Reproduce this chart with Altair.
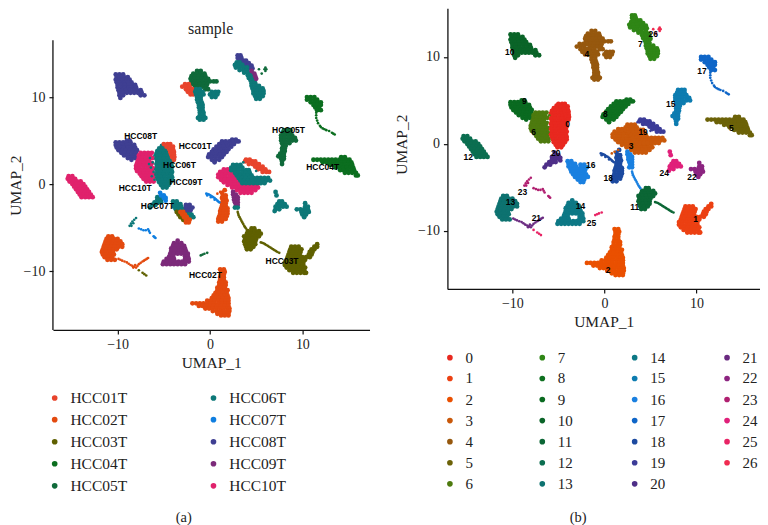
import altair as alt
import pandas as pd

SAMPLES = ["HCC01T","HCC02T","HCC03T","HCC04T","HCC05T","HCC06T","HCC07T","HCC08T","HCC09T","HCC10T"]
SAMPLE_COLORS = ["#e8442c","#e34a0f","#5f6000","#0b6e1f","#0f6a3a","#0d7878","#0f7ee0","#3f3f92","#7c2a7a","#e0226c"]
CLUSTERS = [str(i) for i in range(27)]
CLUSTER_COLORS = ["#e8281f","#ec4012","#ea5000","#c9580a","#96580e","#6c6208","#4d7a0e","#2f8616","#0e7020",
                  "#0a6a20","#0a6428","#0b6635","#0b6e50","#0d7270","#0d7885","#0d7cb0","#1a80e0","#0f66c8",
                  "#1c4aa0","#3c3c98","#4e2f88","#6a2a80","#8c2480","#b01f70","#e0207a","#e82465","#f02b50"]

# (cluster, sample, [(y, [x, x, ...]), ...])
BLOBS = [
 ("12","HCC10T",[(0.9,[-15.3,-14.9]),(0.6,[-15.4,-15.0,-14.6]),(0.3,[-15.2,-14.8,-14.4,-14.0]),(0.0,[-14.9,-14.5,-14.1,-13.7]),(-0.3,[-14.7,-14.3,-13.9,-13.5]),(-0.6,[-14.5,-14.1,-13.7,-13.3]),(-0.9,[-14.3,-13.9,-13.5,-13.1]),(-1.2,[-14.1,-13.7,-13.3,-12.9]),(-1.5,[-13.9,-13.5,-13.1,-12.7])]),
 ("10","HCC08T",[(12.6,[-10.2,-9.8,-9.4]),(12.3,[-10.1,-9.7,-9.3,-8.9]),(12.0,[-10.2,-9.8,-9.4,-9.0,-8.7]),(11.7,[-10.1,-9.7,-9.3,-8.9,-8.5]),(11.4,[-10.0,-9.6,-9.2,-8.8,-8.4,-8.1]),(11.1,[-10.0,-9.6,-9.2,-8.8,-8.4,-8.0]),(10.8,[-9.9,-9.5,-9.1,-8.7,-8.3,-7.9,-7.5]),(10.5,[-9.8,-9.4,-9.0,-8.6,-8.2,-7.8,-7.4]),(10.2,[-9.8,-9.4,-7.5,-7.1]),(9.9,[-9.7])]),
 ("9","HCC08T",[(5.0,[-9.0,-8.7]),(4.8,[-10.2,-9.8,-9.4,-9.0,-8.6]),(4.5,[-10.2,-9.8,-9.4,-9.0,-8.6,-8.2]),(4.2,[-10.1,-9.7,-9.3,-8.9,-8.5,-8.1]),(3.9,[-9.9,-9.5,-9.1,-8.7,-8.3,-7.9]),(3.6,[-9.6,-9.2,-8.8,-8.4,-8.0]),(3.3,[-9.3,-8.9,-8.5,-8.1]),(3.0,[-8.9,-8.5,-8.1]),(2.8,[-8.5])]),
 ("6","HCC10T",[(3.6,[-7.5,-7.1,-6.7,-6.3]),(3.3,[-7.7,-7.3,-6.9,-6.5]),(3.0,[-7.7,-7.3,-6.9,-6.5,-6.2]),(2.7,[-7.8,-7.4,-7.0,-6.6]),(2.4,[-7.9,-7.5,-7.1,-6.7,-6.3]),(2.1,[-8.0,-7.6,-7.2,-6.8,-6.4]),(1.8,[-8.0,-7.6,-7.2,-6.8,-6.4,-6.1]),(1.5,[-7.9,-7.5,-7.1,-6.7,-6.3]),(1.2,[-7.6,-7.2,-6.8,-6.4,-6.1]),(0.9,[-7.4,-7.0,-6.6,-6.2]),(0.6,[-7.2,-6.8,-6.4,-6.1]),(0.3,[-6.9,-6.5,-6.1])]),
 ("0","HCC06T",[(4.4,[-5.2,-4.9]),(4.1,[-5.5,-5.1,-4.7]),(3.8,[-5.7,-5.3,-4.9,-4.6]),(3.5,[-5.8,-5.4,-5.0,-4.6]),(3.2,[-5.7,-5.3,-4.9,-4.5]),(2.9,[-5.8,-5.4,-5.0,-4.6,-4.2]),(2.6,[-5.7,-5.3,-4.9,-4.5,-4.1]),(2.3,[-5.8,-5.4,-5.0,-4.6,-4.2]),(2.0,[-5.7,-5.3,-4.9,-4.5,-4.1]),(1.7,[-5.8,-5.4,-5.0,-4.6,-4.2]),(1.4,[-5.7,-5.3,-4.9,-4.5,-4.1]),(1.1,[-5.8,-5.4,-5.0,-4.6,-4.2]),(0.8,[-5.7,-5.3,-4.9,-4.5,-4.1]),(0.5,[-5.6,-5.2,-4.8,-4.4,-4.1]),(0.2,[-5.5,-5.1,-4.7,-4.3]),(-0.1,[-5.3,-4.9,-4.5]),(-0.4,[-5.1,-4.7])]),
 ("0","HCC01T",[(4.6,[-5.0,-4.6,-4.3]),(4.3,[-4.7,-4.3,-4.0]),(4.0,[-4.4,-4.0]),(3.7,[-4.3,-3.9]),(3.4,[-4.2,-3.9]),(3.1,[-4.1,-3.85]),(2.8,[-3.9])]),
 ("8","HCC08T",[(5.1,[2.4,2.8]),(4.9,[1.3,1.7,2.1,2.5,2.9,3.1]),(4.6,[1.0,1.4,1.8,2.2,2.6]),(4.3,[0.7,1.1,1.5,1.9,2.3]),(4.0,[0.4,0.8,1.2,1.6,2.0]),(3.7,[0.2,0.6,1.0,1.4,1.8]),(3.4,[-0.1,0.3,0.7,1.1,1.5]),(3.1,[-0.2,0.2,0.6,1.0,1.3]),(2.8,[0.2,0.6,1.0]),(2.5,[0.5])]),
 ("3","HCC10T",[(1.7,[1.5,1.9]),(1.4,[1.1,1.5,1.9,2.3]),(1.1,[0.9,1.3,1.7,2.1,2.5]),(0.8,[0.9,1.3,1.7,2.1,2.5,2.8]),(0.5,[1.2,1.6,2.0,2.4,2.8]),(0.2,[1.5,1.9,2.3,2.7,3.1]),(-0.1,[1.9,2.3,2.7,3.1,3.5,3.9,4.3,4.7,5.1]),(-0.4,[2.4,2.8,3.2,3.6,4.0,4.4,4.8,5.2]),(-0.7,[2.9,3.3,3.7,4.1,4.5,4.9]),(-1.0,[3.3,3.7,4.1,4.5])]),
 ("3","HCC06T",[(2.2,[2.5,2.9,3.3]),(1.9,[2.3,2.7,3.1,3.5]),(1.6,[2.3,2.7,3.1,3.5,3.9,4.2]),(1.3,[2.7,3.1,3.5,3.9,4.3]),(1.0,[2.9,3.3,3.7,4.1,4.5]),(0.7,[3.1,3.5,3.9,4.3,4.7,5.1,5.5,5.9,6.3]),(0.4,[3.3,3.7,4.1,4.5,4.9,5.3,5.7,6.1,6.5]),(0.1,[3.5,3.9,4.3,4.7,5.1,5.5,5.9])]),
 ("19","HCC01T",[(2.8,[3.9,4.3]),(2.6,[3.8,4.2,4.6,4.9]),(2.3,[4.2,4.6,5.0,5.3]),(2.0,[4.9,5.3,5.7]),(1.7,[5.2,5.6,6.0]),(1.4,[5.7,6.1,6.4])]),
 ("4","HCC05T",[(13.0,[-1.4,-1.0]),(12.7,[-1.8,-1.4,-1.0,-0.6]),(12.4,[-2.0,-1.6,-1.2,-0.8,-0.5]),(12.1,[-2.1,-1.7,-1.3,-0.9,-0.5,-0.2]),(11.8,[-2.0,-1.6,-1.2,-0.8,-0.4,0.0,0.4,0.7]),(11.5,[-1.9,-1.5,-1.1,-0.7,-0.3]),(11.2,[-1.6,-1.2,-0.8,-0.4]),(10.9,[-0.5,-0.2])]),
 ("4","HCC01T",[(11.5,[-2.7,-2.3]),(11.2,[-3.0,-2.6,-2.2]),(10.9,[-2.6,-2.2,-1.9]),(10.6,[-2.4,-2.0]),(10.3,[-2.1,-1.8])]),
 ("4","HCC06T",[(10.9,[-1.5,-1.1]),(10.6,[-1.6,-1.2,-0.8,0.2,0.6,0.9]),(10.3,[-1.5,-1.1,-0.7,0.0,0.4,0.8]),(10.0,[-1.4,-1.0,0.2,0.6]),(9.7,[-1.4,-1.0]),(9.4,[-1.3,-0.9]),(9.1,[-1.2,-0.8]),(8.8,[-1.2,-0.8]),(8.5,[-1.1,-0.8]),(8.2,[-1.1,-0.7]),(7.9,[-1.1,-0.7]),(7.6,[-1.3,-0.9,-0.5]),(7.4,[-1.1,-0.7])]),
 ("7","HCC08T",[(14.8,[3.0,3.3]),(14.5,[3.0,3.4]),(14.2,[3.2,3.6,3.9]),(13.9,[3.5,3.9,4.2]),(13.6,[3.8,4.2,4.5]),(13.3,[4.2,4.6])]),
 ("7","HCC06T",[(14.0,[2.9,3.2]),(13.7,[2.7,3.1,3.5]),(13.4,[2.8,3.2,3.6,4.0]),(13.1,[3.2,3.6,4.0]),(12.8,[3.7,4.1,4.5]),(12.5,[4.1,4.5]),(12.2,[4.2,4.6]),(11.9,[4.4,4.8]),(11.6,[4.5,4.9]),(11.3,[4.5,4.9,5.3]),(11.0,[4.6,5.0,5.4,5.7]),(10.7,[4.7,5.1,5.5,5.8]),(10.4,[4.7,5.1,5.5,5.8]),(10.1,[4.9,5.3,5.7]),(9.8,[5.0,5.4])]),
 ("7","HCC09T",[(13.0,[4.5]),(12.7,[4.8]),(12.4,[4.9]),(12.1,[5.0])]),
 ("17","HCC04T",[(10.0,[10.5,10.9,11.3]),(9.7,[10.5,10.9,11.3,11.6]),(9.4,[10.9,11.3,11.7,12.0]),(9.1,[11.2,11.6,12.0]),(8.8,[11.4,11.8]),(8.5,[11.6,12.0])]),
 ("15","HCC05T",[(6.2,[8.0,8.4,8.7]),(5.9,[7.9,8.3,8.7]),(5.6,[7.7,8.1,8.5,8.9]),(5.3,[7.7,8.1,8.5,8.9,9.2]),(5.0,[7.7,8.1,8.5,8.9,9.3]),(4.7,[7.8,8.2,8.6]),(4.4,[7.9,8.2]),(4.1,[7.8,8.1]),(3.8,[7.8,8.1]),(3.5,[7.6,8.0]),(3.2,[7.4,7.8,8.0]),(2.9,[7.7,8.0]),(2.6,[7.8]),(2.3,[7.8])]),
 ("5","HCC04T",[(3.1,[14.2,14.6]),(2.8,[11.2,11.6,12.0,12.4,12.8,13.2,13.6,14.0,14.4,14.8,15.1]),(2.5,[12.2,12.6,13.0,13.4,13.8,14.2,14.6,15.0,15.3]),(2.2,[13.0,13.4,13.8,14.2,14.6,15.0,15.4]),(1.9,[13.6,14.0,14.4,14.8,15.2,15.5]),(1.6,[14.1,14.5,14.9,15.3,15.6]),(1.3,[14.6,15.0,15.4,15.8]),(1.0,[15.8,16.0])]),
 ("1","HCC03T",[(-6.9,[11.6]),(-7.2,[8.8,9.2,9.6,11.3,11.6]),(-7.5,[8.7,9.1,9.5,9.9,11.0,11.3]),(-7.8,[8.6,9.0,9.4,9.8,10.8,11.1]),(-8.1,[8.5,8.9,9.3,9.7,10.7,11.0]),(-8.4,[8.4,8.8,9.2,9.6,10.0,10.4,10.8]),(-8.7,[8.3,8.7,9.1,9.5,9.9,10.3]),(-9.0,[8.1,8.5,8.9,9.3,9.7,10.1]),(-9.3,[8.1,8.5,8.9,9.3,9.7,10.1]),(-9.6,[8.3,8.7,9.1,9.5,9.9,10.3]),(-9.9,[8.6,9.0,9.4,9.8,10.2]),(-10.2,[9.0,9.4,9.8,10.2,10.4])]),
 ("11","HCC03T",[(-5.1,[4.5,4.8]),(-5.4,[4.1,4.5,4.9,5.3]),(-5.7,[4.0,4.4,4.8,5.2,5.5]),(-6.0,[3.7,4.1,4.5,4.9,5.3]),(-6.3,[3.8,4.2,4.6,5.0]),(-6.6,[3.7,4.1,4.5,4.9]),(-6.9,[3.8,4.2,4.6,4.9]),(-7.2,[3.9,4.3,4.7]),(-7.5,[4.0,4.4])]),
 ("2","HCC02T",[(-9.8,[1.1,1.5]),(-10.1,[1.2,1.6]),(-10.4,[1.2,1.5]),(-10.7,[1.1,1.5]),(-11.0,[1.1,1.5]),(-11.3,[1.0,1.4,1.7]),(-11.6,[1.0,1.4,1.7]),(-11.9,[0.8,1.2,1.6]),(-12.2,[0.8,1.2,1.6,1.9]),(-12.5,[0.6,1.0,1.4,1.8]),(-12.8,[0.4,0.8,1.2,1.6,1.9]),(-13.1,[0.2,0.6,1.0,1.4,1.8,2.0]),(-13.4,[-0.3,0.1,0.5,0.9,1.3,1.7,2.0]),(-13.7,[-1.9,-1.5,-1.1,-0.7,-0.3,0.1,0.5,0.9,1.3,1.7,2.0]),(-14.0,[-1.2,-0.8,-0.4,0.0,0.4,0.8,1.2,1.6,2.0]),(-14.3,[-0.5,-0.1,0.3,0.7,1.1,1.5,1.9,2.1]),(-14.6,[0.3,0.7,1.1,1.5,1.9,2.1]),(-14.9,[0.8,1.2,1.6,2.0]),(-15.1,[1.2,1.6,2.0])]),
 ("13","HCC02T",[(-6.0,[-11.0,-10.6]),(-6.3,[-11.2,-10.8,-10.4,-10.0]),(-6.6,[-11.3,-10.9,-10.5,-10.1,-9.7]),(-6.9,[-11.4,-11.0,-10.6,-10.2,-9.8,-9.5]),(-7.2,[-11.5,-11.1,-10.7,-10.3,-9.9,-9.5]),(-7.5,[-11.6,-11.2,-10.8,-10.4,-10.1]),(-7.8,[-11.7,-11.3,-10.9,-10.5]),(-8.1,[-11.6,-11.2,-10.8,-10.4]),(-8.4,[-11.4,-11.0,-10.6]),(-8.7,[-11.1,-10.7,-10.3])]),
 ("14","HCC09T",[(-6.5,[-3.5]),(-6.8,[-3.9,-3.5,-3.1]),(-7.1,[-4.0,-3.6,-3.2,-2.8]),(-7.4,[-4.2,-3.8,-3.4,-3.0,-2.7]),(-7.7,[-4.2,-3.8,-3.4,-3.0,-2.6]),(-8.0,[-4.3,-3.9,-3.5,-3.1,-2.7,-2.4]),(-8.3,[-4.4,-4.0,-2.7,-2.4]),(-8.6,[-4.7,-4.3,-3.9,-2.7,-2.3]),(-8.9,[-5.0,-4.6,-4.2,-3.8,-3.4,-3.0,-2.6,-2.3]),(-9.2,[-5.1,-4.7,-4.3,-3.9,-3.5,-3.1,-2.7])]),
 ("16","HCC06T",[(-2.0,[-4.0,-3.6]),(-2.3,[-3.9,-3.5,-3.2]),(-2.6,[-3.9,-3.5,-3.1]),(-2.9,[-3.7,-3.3,-2.9]),(-3.2,[-2.6,-2.2]),(-3.5,[-2.3,-2.0]),(-3.8,[-2.1,-1.8])]),
 ("16","HCC08T",[(-2.4,[-2.6,-2.2]),(-2.7,[-2.6,-2.2,-1.9]),(-3.0,[-2.5,-2.1])]),
 ("16","HCC03T",[(-3.2,[-3.6]),(-3.5,[-3.4]),(-3.8,[-3.2]),(-4.1,[-2.9])]),
 ("16","HCC02T",[(-3.2,[-3.2,-2.9]),(-3.5,[-3.0,-2.7]),(-3.8,[-2.8,-2.5]),(-4.1,[-2.6,-2.2]),(-4.4,[-2.6,-2.3])]),
 ("18","HCC02T",[(-0.7,[1.6]),(-1.0,[1.3]),(-1.3,[1.4,1.7]),(-1.6,[1.3,1.7]),(-1.9,[1.4,1.8]),(-2.2,[1.3,1.7]),(-2.5,[1.3,1.7]),(-2.8,[1.2,1.6,1.9]),(-3.1,[1.1,1.5,1.9]),(-3.4,[1.1,1.5,1.9]),(-3.7,[1.0,1.4,1.8]),(-4.0,[0.9,1.3,1.7]),(-4.3,[0.9,1.3])]),
 ("16","HCC09T",[(-0.9,[2.5]),(-1.2,[2.5,2.8]),(-1.5,[2.6,3.0]),(-1.8,[2.6,3.0]),(-2.1,[2.7,3.0]),(-2.4,[2.8,3.0])]),
 ("16","HCC06T",[(-2.7,[2.7,3.0])]),
 ("20","HCC06T",[(-1.5,[-5.7,-5.3]),(-1.8,[-5.7,-5.3]),(-2.1,[-6.0,-5.6,-5.3]),(-2.4,[-6.3,-5.9]),(-2.7,[-6.5])]),
 ("20","HCC07T",[(-1.0,[-5.4]),(-1.3,[-5.3,-5.0]),(-1.6,[-5.0,-4.8]),(-1.9,[-4.8])]),
 ("22","HCC06T",[(-2.2,[10.3]),(-2.6,[10.3,10.6]),(-2.9,[9.4,9.8,10.2,10.6]),(-3.2,[9.9,10.3,10.7]),(-3.5,[10.0,10.4]),(-3.8,[10.2])]),
 ("24","HCC06T",[(-0.9,[7.1]),(-1.3,[7.2]),(-2.0,[7.5,7.8]),(-2.3,[7.3,7.7,8.1]),(-2.6,[7.1,7.5,7.9,8.3]),(-2.9,[7.1,7.5]),(-3.1,[7.0])]),
]

# (cluster, sample, [(x, y), ...]) thin trails and stray cells
TRAILS = [
 ("17","HCC04T",[(11.5,8.2),(11.5,7.9),(11.5,7.6),(11.6,7.3),(11.7,7.0),(11.9,6.7),(12.2,6.4),(12.6,6.2),(12.9,6.1),(13.2,5.9),(13.5,5.7),(12.4,6.3),(12.0,6.55),(13.35,5.8)]),
 ("11","HCC03T",[(5.5,-6.7),(5.8,-6.8),(6.1,-7.0),(6.4,-7.2),(6.7,-7.4),(7.0,-7.6),(7.3,-7.8),(7.5,-7.9),(5.65,-6.75),(5.95,-6.9),(6.25,-7.1),(6.55,-7.3),(6.85,-7.5),(7.15,-7.7)]),
 ("16","HCC03T",[(3.0,-3.2),(3.1,-3.6),(3.3,-4.0),(3.5,-4.4),(3.7,-4.8),(3.9,-5.1),(3.05,-3.4),(3.2,-3.8),(3.4,-4.2),(3.6,-4.6),(3.8,-4.95)]),
 ("21","HCC02T",[(-9.9,-8.6),(-9.5,-8.8),(-9.0,-9.0),(-8.6,-9.3),(-8.2,-9.5),(-8.0,-9.6),(-7.7,-9.2),(-7.3,-8.9),(-7.0,-8.7),(-6.7,-8.5),(-9.7,-8.7),(-9.25,-8.9),(-8.8,-9.15),(-8.4,-9.4),(-7.85,-9.4),(-7.5,-9.05),(-7.15,-8.8),(-6.85,-8.6),(-8.1,-9.3),(-8.3,-9.6)]),
 ("25","HCC03T",[(-7.7,-9.9),(-7.3,-10.2),(-6.9,-10.5),(-7.1,-10.35)]),
 ("25","HCC05T",[(-1.0,-8.2),(-0.6,-8.0),(-0.3,-7.9),(-0.8,-8.1)]),
 ("18","HCC07T",[(-0.4,-1.1),(-0.1,-1.2),(0.2,-1.4),(0.5,-1.6),(0.8,-1.9),(1.0,-2.1),(-0.25,-1.15),(0.05,-1.3),(0.35,-1.5),(0.65,-1.75),(0.9,-2.0),(-0.3,-1.3),(0.1,-1.5),(0.5,-1.8)]),
 ("3","HCC02T",[(1.5,-0.7),(1.1,-0.9),(0.8,-1.1)]),
 ("23","HCC06T",[(-8.7,-4.8),(-8.4,-4.3),(-8.0,-3.9),(-8.55,-4.55),(-8.2,-4.1),(-8.5,-4.8),(-8.3,-4.5)]),
 ("23","HCC07T",[(-7.7,-5.1),(-7.2,-5.3),(-6.7,-5.2),(-6.5,-5.6),(-6.1,-6.0),(-5.9,-6.2),(-7.45,-5.2),(-6.95,-5.3),(-6.6,-5.4),(-6.0,-6.1)]),
 ("26","HCC05T",[(5.3,13.2),(6.0,13.4),(6.0,13.0),(5.6,12.7),(6.1,13.2),(5.9,13.2)]),
 ("6","HCC06T",[(-6.5,3.0),(-6.2,2.5),(-6.4,1.9),(-6.1,1.4),(-6.3,0.9),(-6.0,3.3),(-6.6,2.3),(-6.0,0.5)]),
 ("19","HCC06T",[(5.0,1.5),(3.6,2.5)]),
]

SAMPLE_LABELS = ["HCC08T","HCC01T","HCC06T","HCC09T","HCC10T","HCC07T","HCC05T","HCC04T","HCC03T","HCC02T"]
SAMPLE_LABEL_X = [-7.5,-1.6,-3.3,-2.6,-8.1,-5.7,8.5,12.2,7.8,-0.5]
SAMPLE_LABEL_Y = [5.5,4.4,2.2,0.2,-0.5,-2.5,6.2,2.0,-8.8,-10.5]
CLUSTER_LABEL_X = [-4.0,9.9,0.4,2.9,-1.9,13.8,-7.7,3.9,0.1,-8.7,-10.3,3.3,-14.8,-10.2,-2.6,7.2,-1.5,10.6,0.4,4.2,-5.3,-7.4,9.5,-8.9,6.5,-1.4,5.3]
CLUSTER_LABEL_Y = [2.3,-8.7,-14.5,-0.2,10.3,1.8,1.4,11.5,3.4,4.9,10.6,-7.3,-1.5,-6.7,-7.2,4.6,-2.4,8.4,-3.9,1.4,-1.0,-8.5,-3.8,-5.5,-3.4,-9.1,12.6]

rows = []
for cl, sa, pts in BLOBS:
    for y, xs in pts:
        rows += [dict(x=x, y=y, cluster=cl, sample=sa, kind="blob") for x in xs]
for cl, sa, pts in TRAILS:
    rows += [dict(x=x, y=y, cluster=cl, sample=sa, kind="trail") for x, y in pts]
df = pd.DataFrame(rows)
lab_a = pd.DataFrame(dict(x=SAMPLE_LABEL_X, y=SAMPLE_LABEL_Y, t=SAMPLE_LABELS))
lab_b = pd.DataFrame(dict(x=CLUSTER_LABEL_X, y=CLUSTER_LABEL_Y, t=CLUSTERS))

SERIF = "Liberation Serif"

def panel(field, domain, colors, labels, xdom, ydom, w, h, legend, caption, capx, capy, y_axis, extra=None):
    xs = alt.X("x:Q", title="UMAP_1", scale=alt.Scale(domain=xdom, nice=False, zero=False),
               axis=alt.Axis(values=[-10, 0, 10], titlePadding=4))
    ys = alt.Y("y:Q", title="UMAP_2", scale=alt.Scale(domain=ydom, nice=False, zero=False), axis=y_axis)
    pts = alt.Chart(df).mark_circle(opacity=1).encode(
        x=xs, y=ys,
        color=alt.Color(field + ":N", scale=alt.Scale(domain=domain, range=colors), legend=legend),
        size=alt.Size("kind:N", scale=alt.Scale(domain=["blob", "trail"], range=[23, 7]), legend=None),
    )
    txt = alt.Chart(labels).mark_text(font="Liberation Sans", fontSize=8.5, fontWeight="bold", color="black").encode(
        x="x:Q", y="y:Q", text="t:N")
    cap = alt.Chart(pd.DataFrame({"t": [caption]})).mark_text(font=SERIF, fontSize=14.5, color="#222").encode(
        x=alt.value(capx), y=alt.value(capy), text="t:N")
    layers = [pts, txt, cap] + (extra or [])
    return alt.layer(*layers).properties(width=w, height=h)

def leg(x, y, columns, padding, row, fs):
    return alt.Legend(title=None, orient="none", legendX=x, legendY=y, columns=columns, columnPadding=padding,
                      rowPadding=row, symbolSize=32, symbolType="circle", symbolStrokeWidth=0, labelFont=SERIF,
                      labelFontSize=fs, labelColor="#222", labelOffset=8, gridAlign="all", labelLimit=200)

# left panel: its axis line starts lower than the plot group's top, where the panel title sits
axis_line = alt.Chart(pd.DataFrame({"a": [0]})).mark_rule(color="#111", strokeWidth=1.3).encode(
    x=alt.value(0), y=alt.value(32), y2=alt.value(322))
title_a = alt.Chart(pd.DataFrame({"t": ["sample"]})).mark_text(font=SERIF, fontSize=16, color="#222").encode(
    x=alt.value(158), y=alt.value(21), text="t:N")

a = panel("sample", SAMPLES, SAMPLE_COLORS, lab_a, [-17.0, 17.27], [-16.76, 20.2], 317, 322,
          leg(-6, 382, 2, 78, 5.1, 15.5), "(a)", 131, 510,
          alt.Axis(values=[-10, 0, 10], domain=False, titleY=177, titlePadding=0), [axis_line, title_a])
b = panel("cluster", CLUSTERS, CLUSTER_COLORS, lab_b, [-17.06, 16.9], [-16.7, 15.6], 313, 281,
          leg(-5, 342, 4, 54.5, 5.1, 15), "(b)", 131, 510,
          alt.Axis(values=[-10, 0, 10], titleY=136, titlePadding=8))

chart = alt.concat(a, b, columns=2, spacing=25).resolve_scale(color="independent", size="independent", x="independent", y="independent").properties(
    padding=0, background="white", align="none").configure_view(stroke=None).configure_axis(
    grid=False, domainColor="#111", domainWidth=1.3, tickColor="#111", tickWidth=1.2, tickSize=4,
    labelFont=SERIF, labelFontSize=14, labelColor="#222", labelPadding=4,
    titleFont=SERIF, titleFontSize=15.5, titleFontWeight="normal", titleColor="#222", titlePadding=2)

chart.save("out.html", embed_options={"renderer": "svg", "actions": False})
